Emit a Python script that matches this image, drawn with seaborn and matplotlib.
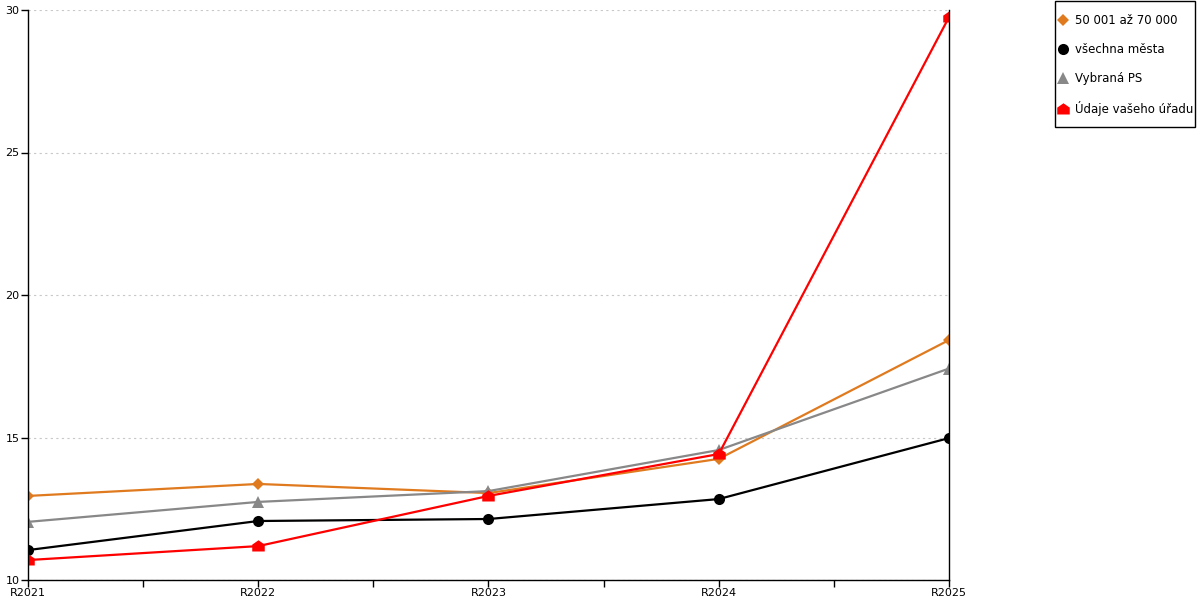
import pandas as pd
import numpy as np
import seaborn as sns
import matplotlib.pyplot as plt
from matplotlib.ticker import MultipleLocator
from matplotlib.path import Path
from matplotlib.patches import Rectangle


# ============================================
# DATA
# ============================================

years = ["R2021", "R2022", "R2023", "R2024", "R2025"]

series_names = ["50 001 až 70 000", "všechna města", "Vybraná PS", "Údaje vašeho úřadu"]

vals_50k = [12.95, 13.37, 13.05, 14.25, 18.42]
vals_all = [11.05, 12.07, 12.14, 12.84, 14.98]
vals_ps = [12.04, 12.74, 13.12, 14.56, 17.42]
vals_office = [10.70, 11.19, 12.95, 14.42, 29.75]

colors = ["#e07a1f", "#000000", "#888888", "#ff0000"]

# house-like marker for the office series
house = Path([(-1, -0.8), (1, -0.8), (1, 0.3), (0, 1), (-1, 0.3), (-1, -0.8)],
             [Path.MOVETO, Path.LINETO, Path.LINETO, Path.LINETO, Path.LINETO,
              Path.CLOSEPOLY])
markers = ["D", "o", "^", house]
msizes = [6, 8, 8, 9]


# ============================================
# BUILD TABLE
# ============================================

df = pd.DataFrame({
    "year": years * 4,
    "x": list(range(len(years))) * 4,
    "value": vals_50k + vals_all + vals_ps + vals_office,
    "series": sum([[n] * len(years) for n in series_names], []),
})


# ============================================
# PLOT
# ============================================

sns.set_style("white")
plt.rcParams['font.family'] = ['DejaVu Sans']

fig = plt.figure(figsize=(12, 6), dpi=100)
ax = fig.add_axes([28 / 1200, 20 / 600, 921 / 1200, 570 / 600])

for name, col, mk, ms in zip(series_names, colors, markers, msizes):
    sub = df[df["series"] == name]
    sns.lineplot(data=sub, x="x", y="value", ax=ax, color=col, marker=mk,
                 markersize=ms, markeredgewidth=0, linewidth=1.6,
                 label=name, legend=False)

ax.set_xlim(0, len(years) - 1)
ax.set_ylim(10, 30)
ax.set_xticks(range(len(years)))
ax.set_xticklabels(years)
ax.xaxis.set_minor_locator(MultipleLocator(0.5))
ax.set_yticks([10, 15, 20, 25, 30])
ax.yaxis.grid(True, linestyle=(0, (2, 3)), color="#c8c8c8", linewidth=0.8)
ax.set_xlabel("")
ax.set_ylabel("")

for s in ["left", "bottom", "right"]:
    ax.spines[s].set_color("black")
    ax.spines[s].set_linewidth(1)
ax.spines["top"].set_visible(False)

ax.tick_params(axis="both", which="both", direction="out", length=5,
               width=1, color="black", labelsize=8, pad=1,
               bottom=True, left=True, labelcolor="black")
ax.tick_params(axis="y", which="minor", left=False)

# legend box drawn by hand, entries placed inside it
fig.patches.append(Rectangle((1055 / 1200, 1 - 127 / 600), 140 / 1200, 126 / 600,
                             transform=fig.transFigure, fill=False,
                             edgecolor="black", linewidth=1))

handles, labels = ax.get_legend_handles_labels()
leg = fig.legend(handles, labels, loc="upper left",
                 bbox_to_anchor=(1059 / 1200, 1 - 14 / 600), frameon=False,
                 fontsize=8.5, handlelength=0.6, handletextpad=0.75,
                 labelspacing=1.36, borderpad=0, borderaxespad=0)
for t in leg.get_texts():
    t.set_color("black")
for h in leg.legend_handles:
    h.set_linestyle("none")

fig.savefig("out.png", dpi=100)
